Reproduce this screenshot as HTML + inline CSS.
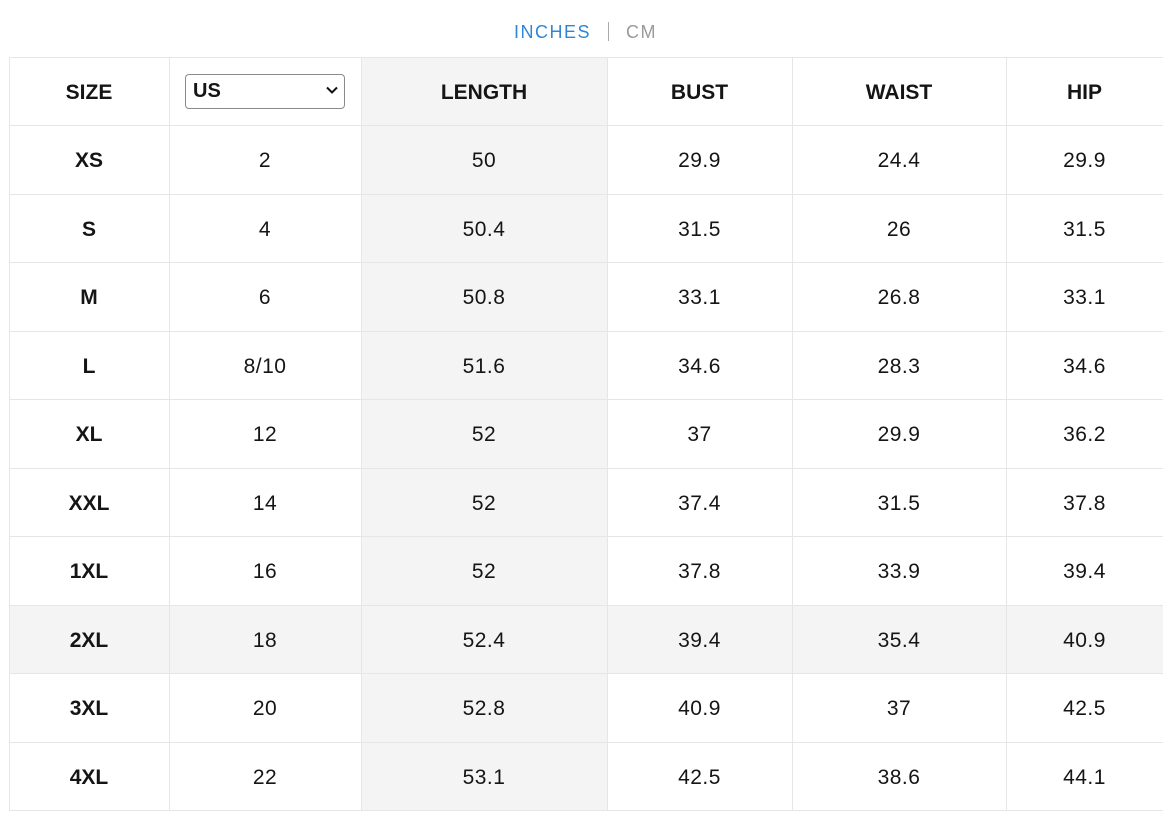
<!DOCTYPE html>
<html><head><meta charset="utf-8">
<style>
*{margin:0;padding:0;box-sizing:border-box}
html,body{width:1176px;height:819px;background:#fff;overflow:hidden}
body{position:relative;font-family:"Liberation Sans",Arial,sans-serif;color:#151515}
.tab{position:absolute;top:20px;height:24px;font-size:18px;letter-spacing:1.5px;line-height:24px}
.hl{position:absolute;left:9px;width:1154px;height:1px;background:#e6e6e6}
.vl{position:absolute;top:57px;height:754px;width:1px;background:#e6e6e6}
.bg{position:absolute;background:#f4f4f4}
.c{position:absolute;height:68px;display:flex;align-items:center;justify-content:center;font-size:21px;letter-spacing:0.5px}
.b{font-weight:bold;letter-spacing:0}
</style></head><body>
<div class="tab" style="left:514px;color:#2f86d8">INCHES</div>
<div style="position:absolute;left:608px;top:22px;width:1px;height:19px;background:#aaa"></div>
<div class="tab" style="left:626px;color:#9a9a9a">CM</div>

<div class="bg" style="left:361px;top:57px;width:246px;height:753px"></div>
<div class="bg" style="left:9px;top:605px;width:1154px;height:68px"></div>

<div class="hl" style="top:57px"></div>
<div class="hl" style="top:125px"></div>
<div class="hl" style="top:194px"></div>
<div class="hl" style="top:262px"></div>
<div class="hl" style="top:331px"></div>
<div class="hl" style="top:399px"></div>
<div class="hl" style="top:468px"></div>
<div class="hl" style="top:536px"></div>
<div class="hl" style="top:605px"></div>
<div class="hl" style="top:673px"></div>
<div class="hl" style="top:742px"></div>
<div class="hl" style="top:810px"></div>

<div class="vl" style="left:9px"></div>
<div class="vl" style="left:169px"></div>
<div class="vl" style="left:361px"></div>
<div class="vl" style="left:607px"></div>
<div class="vl" style="left:792px"></div>
<div class="vl" style="left:1006px"></div>

<div style="position:absolute;left:185px;top:74px;width:160px;height:35px;border:1px solid #8a8a8a;border-radius:4px;background:#fff"></div>
<div style="position:absolute;left:193px;top:78px;font-size:20px;font-weight:bold;line-height:26px">US</div>
<svg style="position:absolute;left:325px;top:85px" width="14" height="10" viewBox="0 0 14 10"><polyline points="2,2.5 7,7.5 12,2.5" fill="none" stroke="#111" stroke-width="2"/></svg>

<div id="cells"></div>
<script>
var cols=[[9,160],[169,192],[361,246],[607,185],[792,214],[1006,157]];
var tops=[57,125,194,262,331,399,468,536,605,673,742];
var rows=[
["SIZE","","LENGTH","BUST","WAIST","HIP"],
["XS","2","50","29.9","24.4","29.9"],
["S","4","50.4","31.5","26","31.5"],
["M","6","50.8","33.1","26.8","33.1"],
["L","8/10","51.6","34.6","28.3","34.6"],
["XL","12","52","37","29.9","36.2"],
["XXL","14","52","37.4","31.5","37.8"],
["1XL","16","52","37.8","33.9","39.4"],
["2XL","18","52.4","39.4","35.4","40.9"],
["3XL","20","52.8","40.9","37","42.5"],
["4XL","22","53.1","42.5","38.6","44.1"]];
var h="";
for(var r=0;r<rows.length;r++){for(var c=0;c<6;c++){var t=rows[r][c];if(!t)continue;
var bold=(r==0||c==0)?" b":"";
h+='<div class="c'+bold+'" style="left:'+cols[c][0]+'px;width:'+cols[c][1]+'px;top:'+(tops[r]+2)+'px">'+t+'</div>';}}
document.getElementById("cells").innerHTML=h;
</script>
</body></html>
